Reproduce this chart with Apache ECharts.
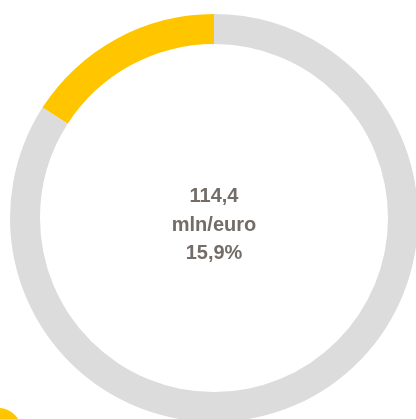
<!DOCTYPE html>
<html>
<head>
<meta charset="utf-8">
<script src="https://cdn.jsdelivr.net/npm/echarts@6/dist/echarts.min.js"></script>
<style>
html,body{margin:0;padding:0;background:#fff;}
#chart{width:416px;height:419px;}
</style>
</head>
<body>
<div id="chart"></div>
<script>
// quota sul totale
var sliceNames = ['quota', 'resto'];
var sliceValues = [15.9, 84.1];
var sliceColors = ['#FFC600', '#DCDCDC'];
var centerLines = ['114,4', 'mln/euro', '15,9%'];

var chart = echarts.init(document.getElementById('chart'));

var data = [];
for (var i = 0; i < sliceValues.length; i++) {
	data.push({name: sliceNames[i], value: sliceValues[i], itemStyle: {color: sliceColors[i]}});
}

var option = {
	animation: false,
	series: [{
		type: 'pie',
		center: [214, 218],
		radius: [174, 204],
		startAngle: 90,
		clockwise: false,
		silent: true,
		label: {show: false},
		labelLine: {show: false},
		emphasis: {disabled: true},
		data: data
	}],
	graphic: [
		{
			type: 'text',
			x: 214,
			y: 225,
			style: {
				text: centerLines.join('\n'),
				font: 'bold 20px "Liberation Sans", Arial, sans-serif',
				lineHeight: 28.5,
				fill: '#736C67',
				align: 'center',
				verticalAlign: 'middle'
			}
		},
		{
			type: 'circle',
			shape: {cx: -2, cy: 432, r: 24},
			style: {fill: '#FFC600'}
		}
	]
};
chart.setOption(option);
</script>
</body>
</html>
